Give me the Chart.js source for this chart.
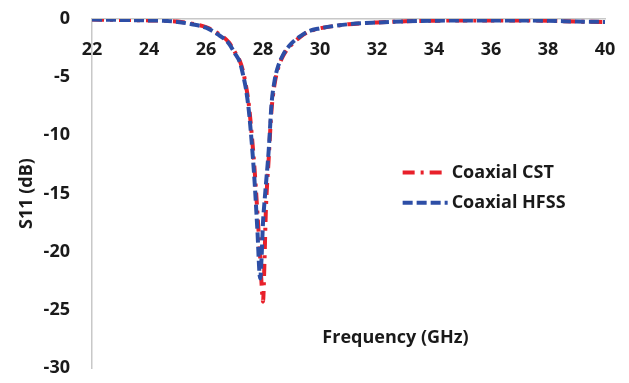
<!DOCTYPE html>
<html>
<head>
<meta charset="utf-8">
<script src="https://cdn.jsdelivr.net/npm/chart.js@4.4.1/dist/chart.umd.min.js"></script>
<style>
  body { margin: 0; background: #fff; }
  #wrap { width: 629px; height: 383px; }
</style>
</head>
<body>
<div id="wrap"><canvas id="myChart"></canvas></div>
<script>
// frequency points (GHz)
const freq = [22, 23, 24, 24.5, 25, 25.5, 26, 26.4, 26.8, 27.0, 27.2, 27.3, 27.4, 27.5, 27.6, 27.7, 27.8, 27.9, 27.95, 28.0, 28.05, 28.1, 28.2, 28.3, 28.4, 28.5, 28.7, 29.0, 29.3, 29.6, 30, 30.5, 31, 32, 33, 34, 35, 36, 37, 38, 39, 40];

// S11 (dB)
const cstValues = [-0.05, -0.08, -0.12, -0.15, -0.22, -0.4, -0.7, -1.2, -2.0, -2.8, -3.7, -4.5, -5.7, -7.3, -9.8, -12.8, -16.5, -20.5, -22.8, -24.3, -21.0, -16.5, -12.0, -7.8, -5.7, -4.5, -3.2, -2.2, -1.55, -1.1, -0.8, -0.6, -0.45, -0.3, -0.2, -0.15, -0.12, -0.12, -0.12, -0.15, -0.22, -0.25];
const hfssValues = [-0.05, -0.08, -0.12, -0.15, -0.25, -0.45, -0.75, -1.3, -2.1, -2.9, -3.8, -4.8, -6.0, -7.8, -10.5, -13.8, -18.0, -22.3, -20.5, -17.5, -15.8, -14.3, -11.3, -7.3, -5.4, -4.3, -3.1, -2.1, -1.5, -1.05, -0.8, -0.6, -0.45, -0.3, -0.2, -0.15, -0.12, -0.12, -0.12, -0.15, -0.22, -0.25];

const labels = ['Coaxial CST', 'Coaxial HFSS'];
const yTicks = { min: -30, max: 0, step: 5 };
const xTicks = { min: 22, max: 40, step: 2 };

const FONT = "'Open Sans', 'DejaVu Sans', sans-serif";

function toPoints(vals) {
    return freq.map((f, i) => ({ x: f, y: vals[i] }));
}

// draws the legend and the x title inside the plot area
const extras = {
    id: 'extras',
    afterDraw(chart) {
        const ctx = chart.ctx;
        const xs = chart.scales.x;
        const ys = chart.scales.y;
        ctx.save();
        ctx.font = 'bold 18px ' + FONT;
        ctx.fillStyle = '#1a1a1a';
        ctx.textAlign = 'center';
        ctx.textBaseline = 'middle';
        ctx.fillText('Frequency (GHz)', xs.getPixelForValue(32.65), ys.getPixelForValue(-27.4));

        const ds = chart.data.datasets;
        const lx = xs.getPixelForValue(32.9);
        const rowY = [ys.getPixelForValue(-13.2), ys.getPixelForValue(-15.8)];
        ds.forEach((d, i) => {
            const y = rowY[i];
            ctx.beginPath();
            ctx.setLineDash(d.borderDash);
            ctx.lineWidth = d.borderWidth;
            ctx.strokeStyle = d.borderColor;
            ctx.moveTo(lx, y);
            ctx.lineTo(lx + 45, y);
            ctx.stroke();
            ctx.setLineDash([]);
            ctx.textAlign = 'left';
            ctx.fillStyle = '#1a1a1a';
            ctx.fillText(d.label, lx + 49, y);
        });
        ctx.restore();
    }
};

new Chart('myChart', {
    type: 'line',
    data: {
        datasets: [
            {
                label: labels[0],
                data: toPoints(cstValues),
                borderColor: '#e8202a',
                borderWidth: 4,
                borderDash: [12, 6, 3, 6],
                pointRadius: 0,
                cubicInterpolationMode: 'monotone',
                order: 2
            },
            {
                label: labels[1],
                data: toPoints(hfssValues),
                borderColor: '#2d4ea6',
                borderWidth: 4,
                borderDash: [10, 4],
                pointRadius: 0,
                cubicInterpolationMode: 'monotone',
                order: 1
            }
        ]
    },
    options: {
        responsive: true,
        maintainAspectRatio: false,
        animation: false,
        layout: { padding: { left: 0, right: 24, top: 19, bottom: 15 } },
        plugins: {
            legend: { display: false },
            tooltip: { enabled: false }
        },
        scales: {
            x: {
                type: 'linear',
                position: { y: 0 },
                min: xTicks.min,
                max: xTicks.max,
                afterFit(scale) { scale.paddingLeft = 0; scale.paddingRight = 0; },
                grid: { display: true, drawOnChartArea: false, drawTicks: false },
                border: { display: true, color: '#c8c8c8', width: 1.5 },
                ticks: {
                    stepSize: xTicks.step,
                    padding: 20,
                    maxRotation: 0,
                    color: '#1a1a1a',
                    font: { family: FONT, size: 18, weight: 'bold' }
                }
            },
            y: {
                min: yTicks.min,
                max: yTicks.max,
                afterFit(scale) { scale.width = 92; scale.paddingTop = 0; scale.paddingBottom = 0; },
                grid: { display: true, drawOnChartArea: false, drawTicks: false },
                border: { display: true, color: '#c8c8c8', width: 1.5 },
                ticks: {
                    stepSize: yTicks.step,
                    padding: 22,
                    color: '#1a1a1a',
                    font: { family: FONT, size: 18, weight: 'bold' }
                },
                title: {
                    display: true,
                    text: 'S11 (dB)',
                    color: '#1a1a1a',
                    padding: { top: 16, bottom: 0 },
                    font: { family: FONT, size: 18, weight: 'bold' }
                }
            }
        }
    },
    plugins: [extras]
});
</script>
</body>
</html>
